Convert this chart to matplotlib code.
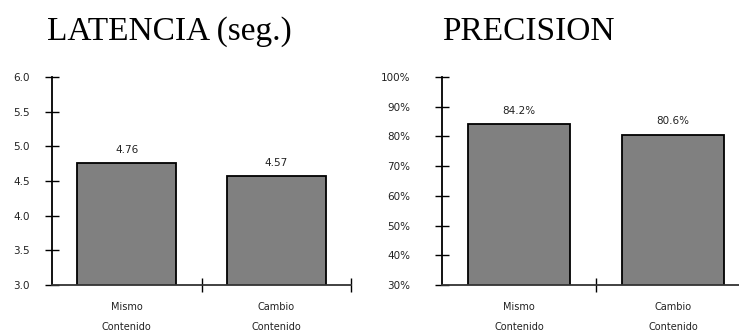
import matplotlib.pyplot as plt
from matplotlib.ticker import FuncFormatter

categorias = ["Mismo\nContenido", "Cambio\nContenido"]
latencia = [4.76, 4.57]
latencia_txt = ["4.76", "4.57"]
precision = [0.842, 0.806]
precision_txt = ["84.2%", "80.6%"]

W, H = 739, 332
fig = plt.figure(figsize=(W / 100, H / 100), dpi=100)
plt.rcParams['font.family'] = ['DejaVu Sans']

def px_axes(x0, x1, ytop, ybot):
    return fig.add_axes([x0 / W, 1 - ybot / H, (x1 - x0) / W, (ybot - ytop) / H])

def dibujar(ax, valores, textos, ylim, yticks, fmt, ypad):
    pos = [0.5, 1.5]
    ax.bar(pos, valores, width=0.66, color="#808080", edgecolor="black",
           linewidth=1.3, zorder=2)
    for x, v, t in zip(pos, valores, textos):
        ax.annotate(t, (x, v), xytext=(0, 6), textcoords="offset points",
                    ha="center", va="bottom", fontsize=7.5, color="#222222")
    ax.set_xlim(0, 2)
    ax.set_ylim(*ylim)
    ax.set_yticks(yticks)
    ax.yaxis.set_major_formatter(FuncFormatter(fmt))
    ax.set_xticks([1, 2])
    ax.set_xticklabels([])
    ax.set_xticks(pos, minor=True)
    ax.set_xticklabels(categorias, minor=True, fontsize=7, color="#222222",
                       linespacing=2.3)
    ax.tick_params(axis="x", which="minor", length=0, pad=12)
    ax.tick_params(axis="x", which="major", direction="inout", length=10,
                   width=1, color="black")
    ax.tick_params(axis="y", direction="inout", length=10, width=1,
                   labelsize=7.5, labelcolor="#222222", pad=ypad)
    for s in ["top", "right"]:
        ax.spines[s].set_visible(False)
    ax.spines["left"].set_linewidth(1.3)
    ax.spines["bottom"].set_linewidth(1.3)
    ax.spines["bottom"].set_color("#333333")
    ax.set_facecolor("none")

ax1 = px_axes(52, 351, 77, 285)
dibujar(ax1, latencia, latencia_txt, (3.0, 6.0),
        [3.0, 3.5, 4.0, 4.5, 5.0, 5.5, 6.0], lambda v, p: f"{v:.1f}", 11)

ax2 = px_axes(442, 750, 77, 285)
dibujar(ax2, precision, precision_txt, (0.3, 1.0),
        [0.3, 0.4, 0.5, 0.6, 0.7, 0.8, 0.9, 1.0],
        lambda v, p: f"{v * 100:.0f}%", 18)

fig.text(47 / W, 1 - 40 / H, "LATENCIA (seg.)", fontsize=24,
         family="Liberation Serif", va="baseline", ha="left")
fig.text(442 / W, 1 - 40 / H, "PRECISION", fontsize=24,
         family="Liberation Serif", va="baseline", ha="left")

fig.savefig("out.png", dpi=100)
